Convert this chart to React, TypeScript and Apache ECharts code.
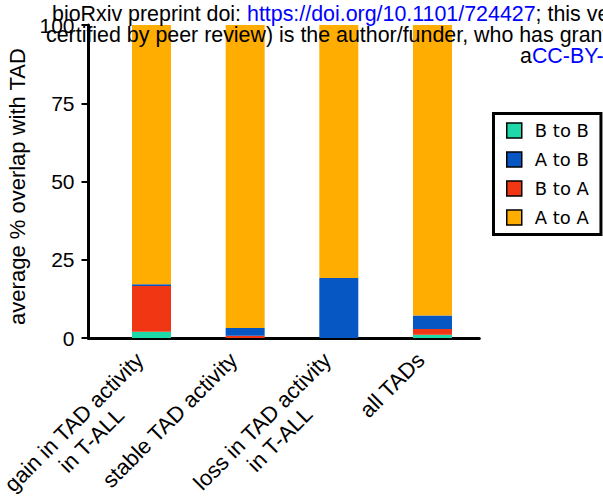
import React, { useEffect, useRef } from "react";
import * as echarts from "echarts";

const categories = [
  "gain in TAD activity\nin T-ALL",
  "stable TAD activity",
  "loss in TAD activity\nin T-ALL",
  "all TADs",
];
const bToB = [2.0, 0, 0, 1.0];
const bToA = [14.6, 0.7, 0, 1.9];
const aToB = [0.6, 2.5, 19.2, 4.3];
const aToA = [82.8, 96.8, 80.8, 92.8];
const yTicks = [0, 25, 50, 75, 100];
const legendOrder = ["B to B", "A to B", "B to A", "A to A"];
const header1 = ["bioRxiv preprint doi: ", "https://doi.org/10.1101/724427", "; this ve"];
const header2 = "certified by peer review) is the author/funder, who has grant";
const header3 = ["a", "CC-BY-"];

const FONT = '"Liberation Sans", Arial, sans-serif';
const FS = 21;
const HFS = 21.4;
const LFS = 22;

function measure(s: string): number {
  const c = document.createElement("canvas").getContext("2d");
  if (!c) return s.length * HFS * 0.5;
  c.font = `${HFS}px "Liberation Sans", Arial, sans-serif`;
  return c.measureText(s).width;
}

export default function App() {
  const ref = useRef<HTMLDivElement>(null);
  useEffect(() => {
    if (!ref.current) return;
    const chart = echarts.init(ref.current, undefined, { renderer: "svg" });
    const mk = (name: string, vals: number[], color: string) => ({
      name,
      type: "bar",
      stack: "total",
      barWidth: 39,
      xAxisIndex: 0,
      yAxisIndex: 0,
      data: vals,
      itemStyle: { color },
      emphasis: { disabled: true },
    });
    const txt = (text: string, x: number, y: number, fill: string) => ({
      type: "text",
      x,
      y,
      z: 100,
      style: { text, fill, fontSize: HFS, fontFamily: FONT, verticalAlign: "middle", align: "left" },
    });
    const w10 = measure(header1[0]);
    const w11 = measure(header1[1]);
    const w30 = measure(header3[0]);
    chart.setOption({
      animation: false,
      backgroundColor: "#fff",
      grid: [
        { left: 104.67, top: 25, right: 123.7, bottom: 159, outerBoundsMode: "none", containLabel: false },
        { left: 88.5, top: 25, right: 123.7, bottom: 159, outerBoundsMode: "none", containLabel: false },
      ],
      legend: {
        data: legendOrder,
        orient: "vertical",
        left: 493.5,
        top: 113.5,
        padding: [8, 12, 8, 12.5],
        itemWidth: 15,
        itemHeight: 15,
        itemGap: 11,
        borderColor: "#000",
        borderWidth: 3,
        backgroundColor: "#fff",
        icon: "rect",
        itemStyle: { borderColor: "#000", borderWidth: 1.5 },
        textStyle: {
          fontFamily: '"DejaVu Sans"',
          fontSize: 18,
          color: "#000",
          lineHeight: 17,
          padding: [0, 0, 0, 8],
        },
      },
      xAxis: [
        {
          type: "category",
          gridIndex: 0,
          data: categories,
          axisLine: { show: false },
          axisTick: { show: false },
          axisLabel: {
            interval: 0,
            rotate: 45,
            margin: -11,
            verticalAlign: "top",
            padding: [0, 29, 0, 0],
            color: "#000",
            fontFamily: FONT,
            fontSize: LFS,
            formatter: (v: string) => {
              const lines = v.split("\n");
              return lines.map((l, k) => (k === 0 ? `{a|${l}}` : `{c|${l}}`)).join("\n");
            },
            rich: {
              a: { fontFamily: FONT, fontSize: LFS, color: "#000", lineHeight: 25 },
              c: { fontFamily: FONT, fontSize: LFS, color: "#000", lineHeight: 25, align: "center" },
            },
          },
        },
        {
          type: "value",
          gridIndex: 1,
          min: 0,
          max: 1,
          axisLine: { show: true, lineStyle: { color: "#000", width: 3 } },
          axisTick: { show: false },
          axisLabel: { show: false },
          splitLine: { show: false },
        },
      ],
      yAxis: [
        {
          type: "value",
          gridIndex: 0,
          offset: 16.17,
          min: yTicks[0],
          max: yTicks[yTicks.length - 1],
          interval: 25,
          name: "average % overlap with TAD",
          nameLocation: "middle",
          nameGap: 58,
          nameTextStyle: { fontFamily: FONT, fontSize: LFS, color: "#000", padding: [0, 10, 0, 0] },
          splitLine: { show: false },
          axisLine: { show: true, onZero: false, lineStyle: { color: "#000", width: 3 } },
          axisTick: { show: true, length: 7, lineStyle: { color: "#000", width: 2 } },
          axisLabel: { fontFamily: FONT, fontSize: FS, color: "#000", margin: 14 },
        },
        {
          type: "value",
          gridIndex: 1,
          show: false,
          min: 0,
          max: 1,
        },
      ],
      series: [
        mk("B to B", bToB, "#1ED8A9"),
        mk("B to A", bToA, "#F03612"),
        mk("A to B", aToB, "#0657C4"),
        mk("A to A", aToA, "#FFAD00"),
      ],
      graphic: [
        txt(header1[0], 52, 14.2, "#000"),
        txt(header1[1], 52 + w10, 14.2, "#0000ff"),
        txt(header1[2], 52 + w10 + w11, 14.2, "#000"),
        txt(header2, 46, 34.7, "#000"),
        txt(header3[0], 520, 55.7, "#000"),
        txt(header3[1], 520 + w30, 55.7, "#0000ff"),
      ],
    });
    return () => chart.dispose();
  }, []);
  return (
    <div
      ref={ref}
      style={{ position: "fixed", left: 0, top: 0, width: 603, height: 497 }}
    />
  );
}
